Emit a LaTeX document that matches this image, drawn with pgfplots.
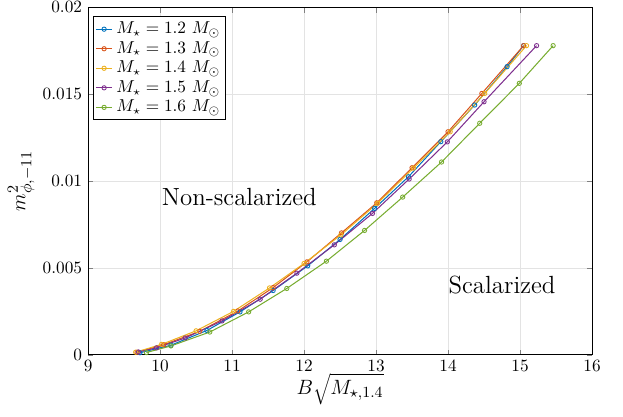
\documentclass[border=0pt]{standalone}
\usepackage{pgfplots}
\pgfplotsset{compat=1.18}
\definecolor{c1}{rgb}{0,0.447,0.741}
\definecolor{c2}{rgb}{0.85,0.325,0.098}
\definecolor{c3}{rgb}{0.929,0.694,0.125}
\definecolor{c4}{rgb}{0.494,0.184,0.556}
\definecolor{c5}{rgb}{0.466,0.674,0.188}
\begin{document}
\begin{tikzpicture}
\begin{axis}[
  scale only axis,
  width=291bp, height=200.6bp,
  xmin=9, xmax=16, ymin=0, ymax=0.02,
  xtick={9,10,...,16},
  ytick={0,0.005,0.01,0.015,0.02},
  yticklabels={0,0.005,0.01,0.015,0.02},
  tick align=inside,
  major tick length=3bp,
  grid=major,
  major grid style={gray!22, line width=0.4pt},
  axis line style={black, line width=0.4pt},
  xlabel={$B\sqrt{M_{\star,1.4}}$},
  ylabel={$m^2_{\phi,-11}$},
  label style={font=\fontsize{13}{15}\selectfont},
  xlabel style={yshift=6bp},
  ylabel style={yshift=-2bp},
  legend style={at={(rel axis cs:0.01,0.974)}, anchor=north west, draw=black, fill=white, font=\normalsize, inner sep=1pt, row sep=-1pt, line width=0.4pt},
  legend cell align=left,
  legend image code/.code={\draw[mark repeat=2,mark phase=2] plot coordinates {(0cm,0cm) (0.17cm,0cm) (0.34cm,0cm)};},
  every axis plot/.append style={line width=0.6pt, mark=o, mark size=1.25pt, mark options={line width=0.5pt}},
]
\addplot[c1] coordinates {(9.72,0.00012)(10.15,0.00055)(10.65,0.0014)(11.11,0.00247)(11.57,0.00370)(12.05,0.00512)(12.50,0.00664)(12.98,0.00843)(13.45,0.01025)(13.90,0.01227)(14.37,0.01438)(14.82,0.01659)(15.05,0.0178)};
\addlegendentry{$M_\star = 1.2\ M_\odot$}
\addplot[c2] coordinates {(9.68,0.00015)(10.05,0.00058)(10.55,0.00135)(11.08,0.00252)(11.57,0.00387)(12.04,0.00535)(12.52,0.00702)(13.01,0.00875)(13.50,0.01077)(14.00,0.01284)(14.47,0.01505)(15.05,0.0178)};
\addlegendentry{$M_\star = 1.3\ M_\odot$}
\addplot[c3] coordinates {(9.66,0.00015)(10.02,0.00060)(10.50,0.00138)(11.02,0.00250)(11.52,0.00385)(12.00,0.00526)(12.51,0.00690)(13.02,0.00872)(13.52,0.01075)(14.03,0.01284)(14.51,0.01505)(15.09,0.0178)};
\addlegendentry{$M_\star = 1.4\ M_\odot$}
\addplot[c4] coordinates {(9.70,0.00016)(9.95,0.00040)(10.35,0.00097)(10.86,0.00195)(11.39,0.00320)(11.90,0.00470)(12.42,0.00633)(12.95,0.00814)(13.46,0.01012)(13.99,0.01226)(14.50,0.01457)(15.23,0.0178)};
\addlegendentry{$M_\star = 1.5\ M_\odot$}
\addplot[c5] coordinates {(9.81,0.00013)(10.15,0.00051)(10.69,0.00131)(11.23,0.00247)(11.76,0.00382)(12.31,0.00539)(12.84,0.00716)(13.37,0.00908)(13.91,0.01110)(14.44,0.01333)(14.99,0.01563)(15.46,0.0178)};
\addlegendentry{$M_\star = 1.6\ M_\odot$}
\node[font=\Large] at (axis cs:11.1,0.00908) {Non-scalarized};
\node[font=\Large] at (axis cs:14.75,0.0040) {Scalarized};
\coordinate (BL) at (rel axis cs:0,0);
\coordinate (TR) at (rel axis cs:1,1);
\end{axis}
\pgfresetboundingbox
\path ([xshift=-50.9bp,yshift=-35.5bp]BL) rectangle ([xshift=17.9bp,yshift=4.3bp]TR);
\end{tikzpicture}
\end{document}
